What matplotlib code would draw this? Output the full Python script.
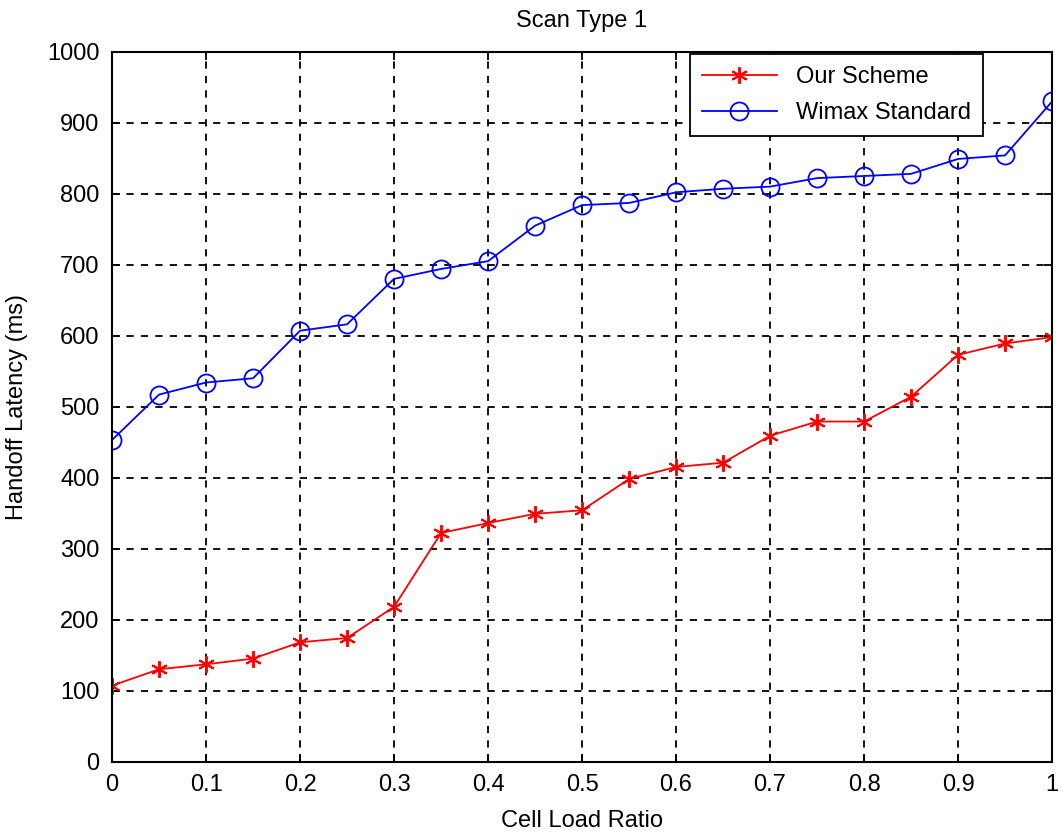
import matplotlib
matplotlib.use("Agg")
import matplotlib.pyplot as plt
import numpy as np

plt.rcParams['font.family'] = ['Liberation Sans', 'DejaVu Sans']

load_ratio = [0.0, 0.05, 0.1, 0.15, 0.2, 0.25, 0.3, 0.35, 0.4, 0.45, 0.5,
              0.55, 0.6, 0.65, 0.7, 0.75, 0.8, 0.85, 0.9, 0.95, 1.0]
our_scheme = [107, 130, 137, 145, 168, 174, 218, 322, 336, 349, 354,
              398, 415, 421, 459, 479, 479, 514, 573, 589, 598]
wimax_std = [453, 517, 534, 540, 607, 616, 680, 694, 705, 755, 784,
             787, 802, 807, 810, 822, 825, 828, 849, 854, 930]

x_ticks = np.arange(0, 1.01, 0.1)
x_tick_labels = ['0', '0.1', '0.2', '0.3', '0.4', '0.5', '0.6', '0.7', '0.8', '0.9', '1']
y_ticks = np.arange(0, 1001, 100)

fig = plt.figure(figsize=(10.63, 8.35), dpi=100)
ax = fig.add_axes([0.1054, 0.088, 0.8843, 0.850])

ax.plot(load_ratio, our_scheme, color='red', lw=1.3, marker=(6, 2, 0),
        markersize=12, markeredgewidth=1.4, label='Our Scheme')
ax.plot(load_ratio, wimax_std, color='blue', lw=1.3, marker='o',
        markersize=13, markerfacecolor='none', markeredgewidth=1.3,
        label='Wimax Standard')

ax.set_xlim(0, 1)
ax.set_ylim(0, 1000)
ax.set_xticks(x_ticks)
ax.set_xticklabels(x_tick_labels)
ax.set_yticks(y_ticks)

ax.grid(True, color='black', linestyle=(0, (4, 4)), linewidth=1.3)
ax.tick_params(direction='in', length=6, width=1.3, top=True, right=True,
               labelsize=17, pad=9)
for sp in ax.spines.values():
    sp.set_linewidth(1.5)

ax.set_title('Scan Type 1', fontsize=17, pad=18)
ax.set_xlabel('Cell Load Ratio', fontsize=17, labelpad=10)
ax.set_ylabel('Handoff Latency (ms)', fontsize=17, labelpad=14)

leg = ax.legend(loc='upper right', bbox_to_anchor=(0.929, 1.0), fontsize=17,
                fancybox=False, edgecolor='black', framealpha=1,
                borderaxespad=0.1, handlelength=3.2, borderpad=0.5,
                labelspacing=0.6)
leg.get_frame().set_linewidth(1.3)

fig.savefig('out.png', dpi=100)
